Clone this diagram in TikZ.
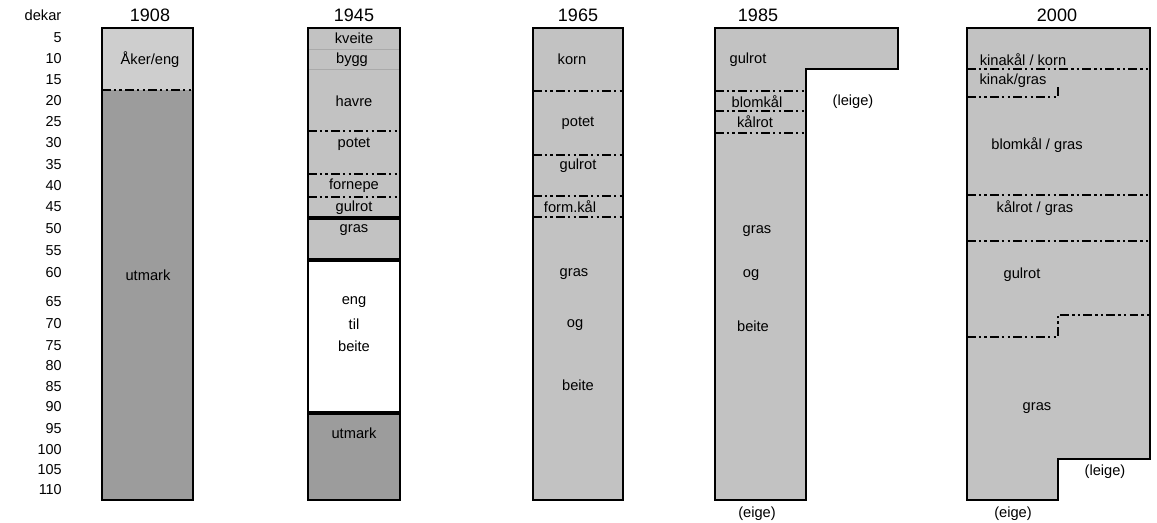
\documentclass[tikz,border=0pt]{standalone}
\usepackage{fontspec}
\setmainfont{Liberation Sans}
\definecolor{lightfill}{RGB}{194,194,194}
\definecolor{paler}{RGB}{206,206,206}
\definecolor{darkfill}{RGB}{156,156,156}
\definecolor{faint}{RGB}{170,170,170}
\begin{document}
\begin{tikzpicture}[x=0.75pt,y=-0.75pt,
  lbl/.style={font=\fontsize{11}{13}\selectfont, inner sep=0pt},
  numlbl/.style={font=\fontsize{10.8}{12}\selectfont, inner sep=0pt, anchor=east},
  ttl/.style={font=\fontsize{13.5}{15}\selectfont, inner sep=0pt},
  outline/.style={draw=black, line width=1.7pt, line join=miter},
  bar/.style={draw=black, line width=2.4pt},
  sepline/.style={draw=black, line width=1.7pt, dash pattern=on 6.5pt off 2.4pt on 1.8pt off 2.4pt on 1.8pt off 2.4pt},
  thinline/.style={draw=faint, line width=0.5pt}
]
\useasboundingbox (0,0) rectangle (1157,522);

% axis
\node[lbl] (dekar) at (43,15) {dekar};
\foreach \v/\yy in {5/38,10/59,15/80,20/101,25/122,30/143,35/165,40/186,45/207,50/229,55/251,60/273,65/302,70/324,75/346,80/366,85/387,90/407,95/429,100/450,105/470,110/490}
  \node[numlbl] (d\v) at (62,\yy) {\v};

% ---------- 1908 ----------
\node[ttl] (t1908) at (150,15) {1908};
\fill[paler] (102,28) rectangle (193,90);
\fill[darkfill] (102,90) rectangle (193,500);
\draw[sepline] (102,90) -- (193,90);
\draw[outline] (102,28) rectangle (193,500);
\node[lbl] (aker) at (150,60) {Åker/eng};
\node[lbl] (utm1) at (148,275) {utmark};

% ---------- 1945 ----------
\node[ttl] (t1945) at (354,15) {1945};
\fill[lightfill] (308,28) rectangle (400,260);
\fill[white] (308,260) rectangle (400,413);
\fill[darkfill] (308,413) rectangle (400,500);
\draw[thinline] (308,49) -- (400,49);
\draw[thinline] (308,69) -- (400,69);
\draw[sepline] (308,131) -- (400,131);
\draw[sepline] (308,174) -- (400,174);
\draw[sepline] (308,197) -- (400,197);
\draw[bar] (308,218) -- (400,218);
\draw[bar] (308,260) -- (400,260);
\draw[bar] (308,413) -- (400,413);
\draw[outline] (308,28) rectangle (400,500);
\node[lbl] (kveite) at (354,38) {kveite};
\node[lbl] (bygg) at (352,60) {bygg};
\node[lbl] (havre) at (354,101) {havre};
\node[lbl] (potet45) at (354,144) {potet};
\node[lbl] (fornepe) at (354,186) {fornepe};
\node[lbl] (gulrot45) at (354,208) {gulrot};
\node[lbl] (gras45) at (354,230) {gras};
\node[lbl] (eng) at (354,302) {eng};
\node[lbl] (til) at (354,324) {til};
\node[lbl] (beite45) at (354,346) {beite};
\node[lbl] (utm2) at (354,433) {utmark};

% ---------- 1965 ----------
\node[ttl] (t1965) at (578,15) {1965};
\fill[lightfill] (533,28) rectangle (623,500);
\draw[sepline] (533,91) -- (623,91);
\draw[sepline] (533,155) -- (623,155);
\draw[sepline] (533,196) -- (623,196);
\draw[sepline] (533,217) -- (623,217);
\draw[outline] (533,28) rectangle (623,500);
\node[lbl] (korn65) at (572,59) {korn};
\node[lbl] (potet65) at (578,123) {potet};
\node[lbl] (gulrot65) at (578,166) {gulrot};
\node[lbl] (formkal) at (570,207) {form.kål};
\node[lbl] (gras65) at (574,274) {gras};
\node[lbl] (og65) at (575,325) {og};
\node[lbl] (beite65) at (578,385) {beite};

% ---------- 1985 ----------
\node[ttl] (t1985) at (758,15) {1985};
\fill[lightfill] (715,28) -- (898,28) -- (898,69) -- (806,69) -- (806,500) -- (715,500) -- cycle;
\draw[sepline] (715,91) -- (806,91);
\draw[sepline] (715,111) -- (806,111);
\draw[sepline] (715,133) -- (806,133);
\draw[outline] (715,28) -- (898,28) -- (898,69) -- (806,69) -- (806,500) -- (715,500) -- cycle;
\node[lbl] (gulrot85) at (748,60) {gulrot};
\node[lbl] (blomkal85) at (757,102) {blomkål};
\node[lbl] (kalrot85) at (755,122) {kålrot};
\node[lbl] (leige85) at (853,102) {(leige)};
\node[lbl] (gras85) at (757,231) {gras};
\node[lbl] (og85) at (751,275) {og};
\node[lbl] (beite85) at (753,326) {beite};
\node[lbl] (eige85) at (757,514) {(eige)};

% ---------- 2000 ----------
\node[ttl] (t2000) at (1057,15) {2000};
\fill[lightfill] (967,28) -- (1150,28) -- (1150,459) -- (1058,459) -- (1058,500) -- (967,500) -- cycle;
\draw[sepline] (967,69) -- (1150,69);
\draw[sepline] (967,97) -- (1058,97) -- (1058,86);
\draw[sepline] (967,195) -- (1150,195);
\draw[sepline] (967,241) -- (1150,241);
\draw[sepline] (967,337) -- (1058,337) -- (1058,315) -- (1150,315);
\draw[outline] (967,28) -- (1150,28) -- (1150,459) -- (1058,459) -- (1058,500) -- (967,500) -- cycle;
\node[lbl] (kinakorn) at (1023,60) {kinakål / korn};
\node[lbl] (kinagras) at (1013,81) {kinak/gras};
\node[lbl] (blomgras) at (1037,145) {blomkål / gras};
\node[lbl] (kalgras) at (1035,208) {kålrot / gras};
\node[lbl] (gulrot00) at (1022,275) {gulrot};
\node[lbl] (gras00) at (1037,408) {gras};
\node[lbl] (leige00) at (1105,472) {(leige)};
\node[lbl] (eige00) at (1013,514) {(eige)};
\end{tikzpicture}
\end{document}
